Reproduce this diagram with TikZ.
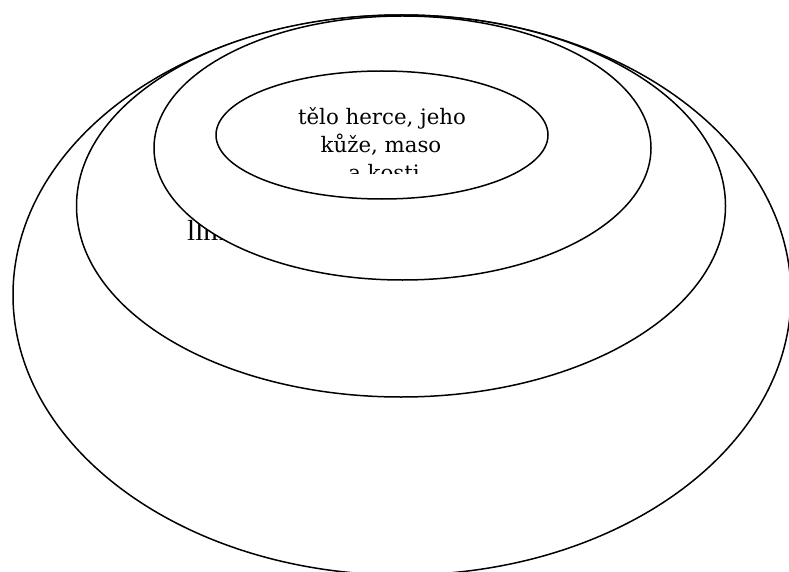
\documentclass[tikz,border=0pt]{standalone}
\usepackage{fontspec}
\setmainfont{DejaVu Serif}
\newfontfamily\timesf{Liberation Serif}
\usetikzlibrary{shapes.geometric}
\begin{document}
\begin{tikzpicture}[x=1pt,y=-1pt,
  ring/.style={ellipse, draw=black, fill=white, line width=1.5pt, inner sep=0pt, outer sep=0pt},
  lbl/.style={font=\fontsize{21.3}{24}\selectfont, anchor=base, inner sep=0pt}]
\useasboundingbox (0,0) rectangle (789,572);
\clip (0,0) rectangle (789,572);
\node[ring, minimum width=778pt, minimum height=560pt] (outer) at (402,295) {};
\node[ring, minimum width=649pt, minimum height=382pt] (third) at (401,206) {};
\node[font=\timesf\fontsize{29}{32}\selectfont, anchor=base west, inner sep=0pt] (part) at (187,240) {llm};
\node[ring, minimum width=497pt, minimum height=264pt] (second) at (402.5,148) {};
\node[ring, minimum width=332pt, minimum height=128pt] (inner) at (382,135) {};
\begin{scope}
  \clip (200,60) rectangle (560,174);
  \node[lbl] (l1) at (382,125) {tělo herce, jeho};
  \node[lbl] (l2) at (381,153) {kůže, maso};
  \node[lbl] (l3) at (384,181) {a kosti};
\end{scope}
\end{tikzpicture}
\end{document}
